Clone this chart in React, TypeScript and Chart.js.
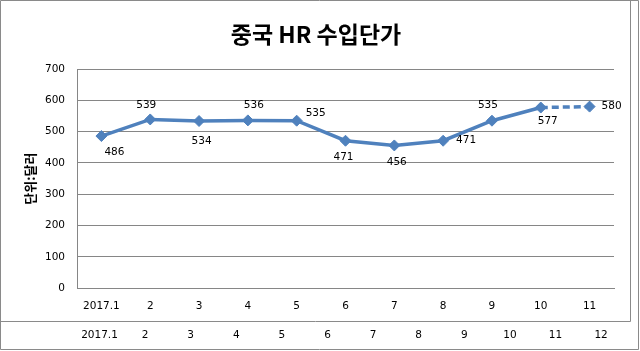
import React, { useEffect, useRef } from 'react';
import { Chart, registerables } from 'chart.js';

Chart.register(...registerables);

// ---- data ----
const chartTitle = '중국 HR 수입단가';
const yAxisTitle = '단위:달러';
const months = ['2017.1', '2', '3', '4', '5', '6', '7', '8', '9', '10', '11'];
const prices = [486, 539, 534, 536, 535, 471, 456, 471, 535, 577, 580];
const tableMonths = ['2017.1', '2', '3', '4', '5', '6', '7', '8', '9', '10', '11', '12'];
const yMin = 0;
const yMax = 700;
const yStep = 100;
const dashedFromIndex = 10;

// ---- styling / layout ----
const labelOffsets: [number, number][] = [
  [13, 16], [-4, -14.5], [2.5, 20], [6, -15], [19, -7], [-2, 16.6],
  [2.4, 16.4], [23, 0], [-4, -15], [7, 14], [22, 0],
];
const LINE = '#4F81BD';
const GRID = '#868686';
const FRAME = '#8a8a8a';
const FONT = 'DejaVu Sans';
const W = 640;
const H = 351;

const dataLabelPlugin = {
  id: 'dataLabels',
  afterDatasetsDraw(chart: any) {
    const ctx = chart.ctx;
    const meta = chart.getDatasetMeta(0);
    ctx.save();
    ctx.font = `10.5px "${FONT}"`;
    ctx.fillStyle = '#000';
    ctx.textAlign = 'center';
    ctx.textBaseline = 'middle';
    meta.data.forEach((pt: any, i: number) => {
      const [dx, dy] = labelOffsets[i] || [0, -14];
      ctx.fillText(String(prices[i]), pt.x + dx, pt.y + dy);
    });
    ctx.restore();
  },
};

const framePlugin = {
  id: 'frame',
  afterDraw(chart: any) {
    const ctx = chart.ctx;
    ctx.save();
    ctx.strokeStyle = FRAME;
    ctx.lineWidth = 1;
    ctx.beginPath();
    // outer frame
    ctx.moveTo(0.5, 0.5);
    ctx.lineTo(638.5, 0.5);
    ctx.lineTo(638.5, 349.5);
    ctx.lineTo(0.5, 349.5);
    ctx.lineTo(0.5, 0.5);
    // inner chart box
    ctx.moveTo(630.5, 0.5);
    ctx.lineTo(630.5, 321.5);
    ctx.moveTo(0.5, 321.5);
    ctx.lineTo(630.5, 321.5);
    ctx.stroke();
    ctx.restore();
  },
};

export default function App() {
  const ref = useRef<HTMLCanvasElement | null>(null);

  useEffect(() => {
    if (!ref.current) return;
    const chart = new Chart(ref.current, {
      type: 'line',
      data: {
        labels: months,
        datasets: [
          {
            data: prices,
            borderColor: LINE,
            backgroundColor: LINE,
            borderWidth: 3.5,
            pointStyle: 'rectRot',
            pointRadius: 5.5,
            pointBorderWidth: 1,
            pointBorderColor: LINE,
            pointBackgroundColor: LINE,
            tension: 0,
            segment: {
              borderDash: (c: any) => (c.p1DataIndex >= dashedFromIndex ? [7, 4] : undefined),
            },
          },
        ],
      },
      options: {
        animation: false,
        responsive: false,
        devicePixelRatio: 1,
        layout: { padding: { left: 0, right: 8, top: 0, bottom: 0 } },
        plugins: {
          legend: { display: false },
          tooltip: { enabled: false },
          title: {
            display: true,
            text: chartTitle,
            color: '#000',
            font: { family: 'Noto Sans CJK KR', size: 23, weight: 'bold', lineHeight: 1.2 },
            padding: { top: 20.2, bottom: 21.2 },
          },
        },
        scales: {
          x: {
            offset: true,
            grid: { display: false, drawTicks: false, offset: true },
            border: { display: true, color: GRID, width: 1 },
            ticks: {
              color: '#000',
              padding: 11.4,
              maxRotation: 0,
              autoSkip: false,
              font: { family: FONT, size: 10.5 },
            },
            afterFit: (s: any) => {
              s.height = H - 288.3;
            },
          },
          y: {
            min: yMin,
            max: yMax,
            ticks: {
              stepSize: yStep,
              color: '#000',
              padding: 12,
              font: { family: FONT, size: 10.5 },
            },
            grid: { color: GRID, drawTicks: false, lineWidth: 1 },
            border: { display: true, color: GRID, width: 1 },
            title: {
              display: true,
              text: yAxisTitle,
              color: '#000',
              font: { family: 'Noto Sans CJK KR', size: 13, weight: 'bold', lineHeight: 1.2 },
              padding: { top: 22.2, bottom: 0 },
            },
            afterFit: (s: any) => {
              s.width = 77;
            },
          },
          y2: {
            position: 'right',
            display: true,
            grid: { display: false },
            ticks: { display: false },
            border: { display: false },
            afterFit: (s: any) => {
              s.width = 18;
            },
          },
        },
      },
      plugins: [dataLabelPlugin, framePlugin],
    } as any);
    return () => chart.destroy();
  }, []);

  return (
    <div style={{ position: 'fixed', left: 0, top: 0, width: W, height: H, background: '#fff', overflow: 'hidden' }}>
      <canvas ref={ref} width={W} height={H} style={{ display: 'block', width: W, height: H }} />
      {tableMonths.map((m, i) => (
        <div
          key={m + i}
          style={{
            position: 'absolute',
            left: 99.5 + i * 45.6,
            top: 328,
            transform: 'translateX(-50%)',
            font: `10.5px "${FONT}"`,
            lineHeight: '12px',
            color: '#000',
            whiteSpace: 'nowrap',
          }}
        >
          {m}
        </div>
      ))}
    </div>
  );
}
